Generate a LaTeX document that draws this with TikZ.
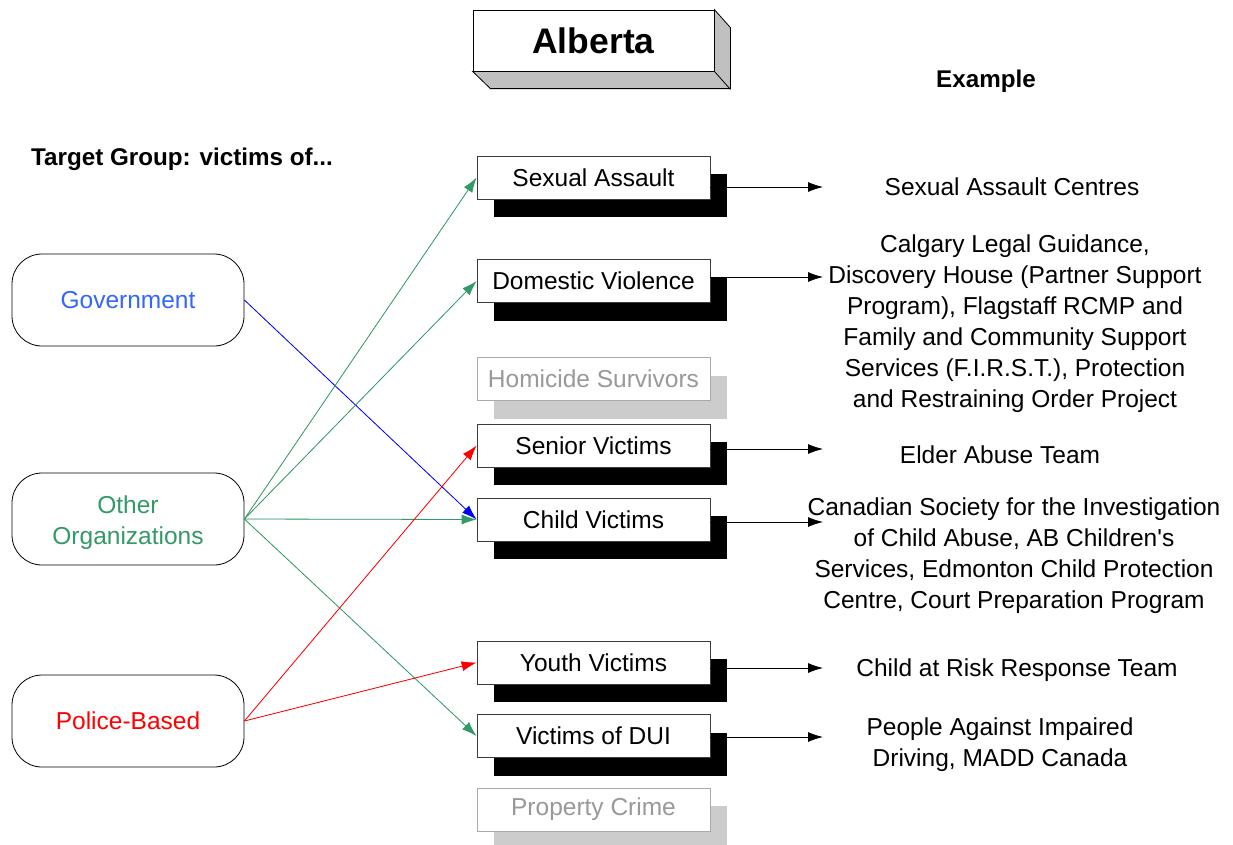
\documentclass[tikz,border=0pt]{standalone}
\usepackage{fontspec}
\setmainfont{Liberation Sans}
\usetikzlibrary{arrows.meta,shadows}
\definecolor{govblue}{RGB}{51,102,255}
\definecolor{orggreen}{RGB}{51,153,102}
\definecolor{boxline}{RGB}{60,60,60}
\definecolor{dimtext}{RGB}{153,153,153}
\definecolor{dimline}{RGB}{170,170,170}
\definecolor{dimshadow}{RGB}{204,204,204}
\definecolor{bevel}{RGB}{192,192,192}
\begin{document}
\begin{tikzpicture}[x=1pt,y=-1pt,
  lbl/.style={font=\fontsize{24.5}{31}\selectfont},
  head/.style={font=\fontsize{24.2}{29}\selectfont\bfseries},
  group/.style={lbl, draw=black, line width=0.8pt, rounded corners=30pt,
    minimum width=232pt, minimum height=92pt, align=center},
  victimbase/.style={lbl, fill=white, line width=0.8pt, inner sep=0pt,
    minimum width=233pt, minimum height=43pt},
  victim/.style={victimbase, draw=boxline,
    general shadow={fill=black, shadow xshift=17pt, shadow yshift=-18pt}},
  dimvictim/.style={victimbase, draw=dimline, text=dimtext,
    general shadow={fill=dimshadow, shadow xshift=17pt, shadow yshift=-18pt}},
  example/.style={lbl, align=center, inner sep=0pt},
  tip/.style={-{Latex[length=15pt,width=10pt]}},
  outarrow/.style={tip, draw=black, line width=0.8pt},
  link/.style={tip, line width=0.8pt},
]
\useasboundingbox (0,0) rectangle (1233,844);

% title block with bevelled edge
\node[draw=black, fill=white, line width=0.8pt, minimum width=241pt, minimum height=61pt,
  font=\fontsize{35.5}{40}\selectfont\bfseries] (alberta) at (593.5,40.5) {Alberta};
\filldraw[fill=bevel, draw=black, line width=0.8pt]
  (alberta.south west) -- (alberta.south east) -- (alberta.north east)
  -- ++(16,18) -- ++(0,61) -- ++(-240,0) -- cycle;
\draw[line width=0.8pt] (alberta.south east) -- ++(16,18);

\node[head] (examplehead) at (986,81) {Example};
\node[head, anchor=west, inner sep=0pt] (targethead) at (31,159) {Target Group: victims of...};

% target groups
\node[victim]    (sa)  at (593.5,177.5) {Sexual Assault};
\node[victim]    (dv)  at (593.5,281)   {Domestic Violence};
\node[dimvictim] (hs)  at (593.5,379)   {Homicide Survivors};
\node[victim]    (sv)  at (593.5,445.5) {Senior Victims};
\node[victim]    (cv)  at (593.5,519.5) {Child Victims};
\node[victim]    (yv)  at (593.5,662.5) {Youth Victims};
\node[victim]    (dui) at (593.5,736)   {Victims of DUI};
\node[dimvictim] (pc)  at (593.5,809.5) {Property Crime};

% service providers
\node[group, text=govblue]  (gov)    at (128,300) {Government};
\node[group, text=orggreen] (org)    at (128,519)
  {\raisebox{-4pt}[\height][\depth]{\parbox{200pt}{\centering Other\\Organizations}}};
\node[group, text=red]      (police) at (128,721) {Police-Based};

% examples
\node[example] (exsa)  at (1012,187) {Sexual Assault Centres};
\node[example] (exdv)  at (1015,324) {Calgary Legal Guidance,\\Discovery House (Partner Support\\Program), Flagstaff RCMP and\\Family and Community Support\\Services (F.I.R.S.T.), Protection\\and Restraining Order Project};
\node[example] (exsv)  at (1000,455) {Elder Abuse Team};
\node[example] (excv)  at (1014,556) {Canadian Society for the Investigation\\of Child Abuse, AB Children\textquotesingle s\\Services, Edmonton Child Protection\\Centre, Court Preparation Program};
\node[example] (exyv)  at (1017,670) {Child at Risk Response Team};
\node[example] (exdui) at (1000,745) {People Against Impaired\\Driving, MADD Canada};

% arrow ends on the example side
\coordinate (sa-out)  at (823,187);
\coordinate (dv-out)  at (823,277);
\coordinate (sv-out)  at (823,449);
\coordinate (cv-out)  at (823,522);
\coordinate (yv-out)  at (823,668);
\coordinate (dui-out) at (823,737);

\draw[outarrow] (sa.east |- sa-out)   -- (sa-out);
\draw[outarrow] (dv.east |- dv-out)   -- (dv-out);
\draw[outarrow] (sv.east |- sv-out)   -- (sv-out);
\draw[outarrow] (cv.east |- cv-out)   -- (cv-out);
\draw[outarrow] (yv.east |- yv-out)   -- (yv-out);
\draw[outarrow] (dui.east |- dui-out) -- (dui-out);

% provider links
\draw[link, draw=blue, fill=blue] (gov.east) -- (cv.west);
\draw[link, draw=orggreen, fill=orggreen] (org.east) -- (sa.west);
\draw[link, draw=orggreen, fill=orggreen] (org.east) -- (dv.west);
\draw[link, draw=orggreen, fill=orggreen] (org.east) -- (cv.west);
\draw[link, draw=orggreen, fill=orggreen] (org.east) -- (dui.west);
\draw[link, draw=red, fill=red] (police.east) -- (sv.west);
\draw[link, draw=red, fill=red] (police.east) -- (yv.west);
\end{tikzpicture}
\end{document}
